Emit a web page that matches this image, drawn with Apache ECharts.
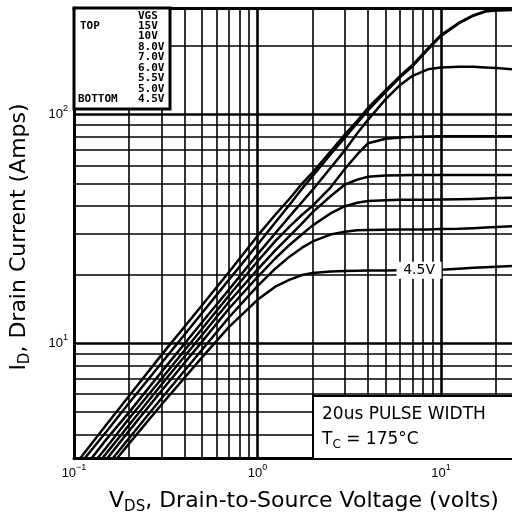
<!DOCTYPE html>
<html><head><meta charset="utf-8">
<script src="https://cdn.jsdelivr.net/npm/echarts@6/dist/echarts.min.js"></script>
<style>html,body{margin:0;padding:0;background:#fff}#c{width:512px;height:520px}</style>
</head><body><div id="c"></div>
<script>
// Drain-to-source voltage samples (volts)
const vds   = [0.1, 0.15, 0.2, 0.3, 0.5, 0.7, 1, 1.25, 1.5, 1.75, 2, 2.5, 3, 3.5, 4, 5, 6, 7, 8.5, 10, 12.5, 15, 17.5, 20, 25];
// Drain current (A) per gate voltage
const id15  = [2.9, 4.4, 5.9, 8.9, 14.7, 20.5, 29.5, 36.5, 43, 50, 56, 69, 82, 94, 107, 128, 148, 165, 195, 223, 252, 272, 284, 287, 288];
const id10  = [2.75, 4.1, 5.5, 8.2, 13.6, 19, 27, 33.8, 40.5, 47.5, 54, 67, 79.5, 92, 104.5, 126, 146, 163, 193, 221, 251, 271, 283, 286, 287];
const id8   = [2.5, 3.8, 5.0, 7.5, 12.4, 17.2, 24.5, 30.3, 36, 41.5, 47, 58.5, 70, 83, 95, 117, 135, 148, 158, 161, 162, 162, 161, 160, 158];
const id7   = [2.35, 3.5, 4.7, 7.0, 11.6, 16.2, 22.8, 28, 32.5, 36.5, 40, 48, 58, 67, 75, 78.5, 79.5, 80, 80.3, 80.5, 80.5, 80.5, 80.5, 80.5, 80.5];
const id6   = [2.2, 3.3, 4.4, 6.6, 10.9, 15.2, 21, 25.5, 29.5, 33.5, 37.5, 44, 49.5, 52, 53.5, 54.2, 54.4, 54.5, 54.5, 54.5, 54.5, 54.5, 54.5, 54.5, 54.5];
const id55  = [2.08, 3.1, 4.15, 6.2, 10.2, 14.2, 19.5, 23.5, 27, 30, 32.8, 37, 39.8, 41.2, 41.9, 42.3, 42.5, 42.5, 42.5, 42.6, 42.7, 42.8, 43, 43.2, 43.3];
const id5   = [1.93, 2.9, 3.85, 5.75, 9.4, 13, 17.8, 21.2, 24, 26.2, 27.9, 29.9, 30.8, 31.2, 31.3, 31.4, 31.5, 31.5, 31.5, 31.6, 31.7, 31.9, 32.1, 32.3, 32.5];
const id45  = [1.84, 2.75, 3.65, 5.4, 8.7, 11.8, 15.5, 17.7, 19, 19.9, 20.3, 20.6, 20.7, 20.75, 20.8, 20.8, 20.85, 20.9, 20.9, 21, 21.2, 21.4, 21.5, 21.6, 21.8];
const curveNames = ['15V', '10V', '8.0V', '7.0V', '6.0V', '5.5V', '5.0V', '4.5V'];
const curveValues = [id15, id10, id8, id7, id6, id55, id5, id45];
// legend box text
const legendTitle = 'VGS';
const legendRows = ['15V', '10V', '8.0V', '7.0V', '6.0V', '5.5V', '5.0V', '4.5V'];
// grid lines
const xMinorLines = [0.2, 0.3, 0.4, 0.5, 0.6, 0.7, 0.8, 0.9, 2, 3, 4, 5, 6, 7, 8, 9, 20];
const xMajorLines = [1, 10];
const yMinorLines = [4, 5, 6, 7, 8, 9, 20, 30, 40, 50, 60, 70, 80, 90, 200];
const yMajorLines = [10, 100];
const xRange = [0.1, 24.4];
const yRange = [3.15, 293];
const labelPoint = [7.6, 20.9];

const chart = echarts.init(document.getElementById('c'), null, {renderer: 'canvas'});

function powLabel(v) {
  const e = Math.log10(v);
  const r = Math.round(e);
  if (Math.abs(e - r) > 1e-6) return '';
  return '{b|10}{s|' + (r < 0 ? '\u2212' + (-r) : r) + '}';
}
const tickRich = {
  b: {fontSize: 13, fontFamily: 'Liberation Sans', color: '#000', lineHeight: 21},
  s: {fontSize: 9, fontFamily: 'Liberation Sans', color: '#000', lineHeight: 9, verticalAlign: 'top'}
};
const gridLine = {color: '#000', type: 'solid', width: 1.6};
const gridLineMajor = {color: '#000', type: 'solid', width: 2.6};

const markLineData = []
  .concat(xMinorLines.map(v => ({xAxis: v, lineStyle: gridLine})))
  .concat(xMajorLines.map(v => ({xAxis: v, lineStyle: gridLineMajor})))
  .concat(yMinorLines.map(v => ({yAxis: v, lineStyle: gridLine})))
  .concat(yMajorLines.map(v => ({yAxis: v, lineStyle: gridLineMajor})));

const series = [{
  type: 'line',
  name: 'grid',
  data: [[1, 10]],
  symbol: 'none',
  lineStyle: {width: 0},
  silent: true,
  z: 1,
  markLine: {
    silent: true,
    symbol: ['none', 'none'],
    label: {show: false},
    z: 1,
    animation: false,
    data: markLineData
  }
}];
curveValues.forEach((vals, k) => {
  const s = {
    type: 'line',
    name: curveNames[k],
    data: vds.map((v, i) => [v, vals[i]]),
    symbol: 'none',
    showSymbol: false,
    smooth: false,
    lineStyle: {color: '#000', width: 2.5, join: 'round'},
    z: 3,
    animation: false
  };
  if (curveNames[k] === '4.5V') {
    s.markPoint = {
      z: 10,
      symbol: 'rect',
      symbolSize: [45, 17],
      itemStyle: {color: '#fff'},
      label: {show: true, formatter: '4.5V', color: '#000', fontSize: 14, fontFamily: 'DejaVu Sans'},
      data: [{coord: labelPoint}]
    };
  }
  series.push(s);
});

const legendFont = 'bold 11px "DejaVu Sans Mono"';
const legendGraphics = [{
  type: 'rect', z: 100,
  shape: {x: 74, y: 8, width: 96, height: 101},
  style: {fill: '#fff', stroke: '#000', lineWidth: 3}
}, {
  type: 'text', z: 101, x: 138, y: 15.7,
  style: {text: legendTitle, font: legendFont, fill: '#000', verticalAlign: 'middle'}
}, {
  type: 'text', z: 101, x: 80, y: 15.7 + 10.45,
  style: {text: 'TOP', font: legendFont, fill: '#000', verticalAlign: 'middle'}
}, {
  type: 'text', z: 101, x: 78, y: 15.7 + 8 * 10.45,
  style: {text: 'BOTTOM', font: legendFont, fill: '#000', verticalAlign: 'middle'}
}];
legendRows.forEach((t, i) => {
  legendGraphics.push({
    type: 'text', z: 101, x: 138, y: 15.7 + (i + 1) * 10.45,
    style: {text: t, font: legendFont, fill: '#000', verticalAlign: 'middle'}
  });
});

const noteGraphics = [{
  type: 'rect', z: 100,
  shape: {x: 313, y: 396, width: 220, height: 63},
  style: {fill: '#fff', stroke: '#000', lineWidth: 2}
}, {
  type: 'text', z: 101, x: 322, y: 415,
  style: {text: '20us PULSE WIDTH', font: '17px "DejaVu Sans"', fill: '#000', verticalAlign: 'middle'}
}, {
  type: 'text', z: 101, x: 322, y: 440,
  style: {
    text: '{t|T}{c|C}{t| = 175°C}',
    fill: '#000', verticalAlign: 'middle',
    rich: {
      t: {fontSize: 17, fontFamily: 'DejaVu Sans', lineHeight: 22, verticalAlign: 'middle'},
      c: {fontSize: 12, fontFamily: 'DejaVu Sans', lineHeight: 12, verticalAlign: 'bottom'}
    }
  }
}];

const nameRich = {
  m: {fontSize: 22, fontFamily: 'DejaVu Sans', color: '#000', lineHeight: 27, verticalAlign: 'middle'},
  sub: {fontSize: 15, fontFamily: 'DejaVu Sans', color: '#000', lineHeight: 15, verticalAlign: 'bottom'}
};

chart.setOption({
  animation: false,
  backgroundColor: '#fff',
  grid: {left: 74, top: 8, bottom: 61, right: 0, show: false},
  xAxis: [{
    type: 'log', logBase: 10, min: xRange[0], max: xRange[1],
    axisLine: {show: true, lineStyle: {color: '#000', width: 3}},
    axisTick: {show: false},
    splitLine: {show: false},
    minorSplitLine: {show: false},
    axisLabel: {formatter: powLabel, rich: tickRich, margin: 5, showMaxLabel: false},
    name: '{m|V}{sub|DS}{m|, Drain-to-Source Voltage (volts)}',
    nameLocation: 'middle', nameGap: 30,
    nameTextStyle: {rich: nameRich, padding: [0, 0, 0, 22]}
  }, {
    type: 'log', logBase: 10, min: xRange[0], max: xRange[1], position: 'top',
    axisLine: {show: true, lineStyle: {color: '#000', width: 3}},
    axisTick: {show: false}, axisLabel: {show: false},
    splitLine: {show: false}
  }],
  yAxis: {
    type: 'log', logBase: 10, min: yRange[0], max: yRange[1],
    axisLine: {show: true, lineStyle: {color: '#000', width: 3}},
    axisTick: {show: false},
    splitLine: {show: false},
    minorSplitLine: {show: false},
    axisLabel: {formatter: powLabel, rich: tickRich, margin: 6, showMinLabel: false, showMaxLabel: false},
    name: '{m|I}{sub|D}{m|, Drain Current (Amps)}',
    nameLocation: 'middle', nameGap: 41, nameRotate: 90,
    nameTextStyle: {rich: nameRich, padding: [0, 8, 0, 0]}
  },
  series: series,
  graphic: legendGraphics.concat(noteGraphics)
});
</script>
</body></html>
